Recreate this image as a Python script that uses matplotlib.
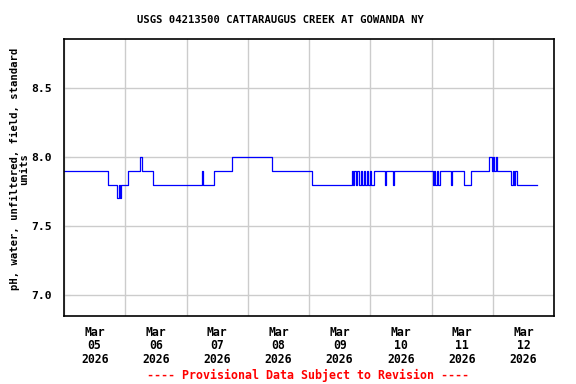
import numpy as np
import pandas as pd
import matplotlib
matplotlib.use("Agg")
import matplotlib.pyplot as plt
import matplotlib.dates as mdates

# pH change points (hours after Mar 05 00:00) and the value held from there on
hours = [0.0, 17.4, 20.6, 21.5, 21.9, 22.3, 23.2, 25.2, 29.9, 30.4, 34.7,
         54.2, 54.6, 58.9, 65.9, 81.4, 97.3,
         112.7, 113.3, 113.7, 114.3, 114.8, 115.5, 116.2, 116.8, 117.4, 118.0,
         118.6, 119.2, 119.8, 120.4, 121.3, 121.8,
         125.9, 126.3, 128.8, 129.4, 129.8, 131.0,
         144.5, 145.0, 145.5, 146.0, 146.5, 147.2,
         151.7, 152.1, 156.6, 159.6, 166.4, 167.7, 168.2, 168.6, 169.1, 169.5, 170.1,
         175.3, 175.8, 176.2, 176.9, 177.5, 185.5]
ph = [7.9, 7.8, 7.7, 7.8, 7.7, 7.8, 7.8, 7.9, 8.0, 7.9, 7.8,
      7.9, 7.8, 7.9, 8.0, 7.9, 7.8,
      7.9, 7.8, 7.9, 7.8, 7.9, 7.8, 7.9, 7.8, 7.9, 7.8,
      7.9, 7.8, 7.9, 7.8, 7.9, 7.9,
      7.8, 7.9, 7.8, 7.9, 7.9, 7.9,
      7.8, 7.9, 7.8, 7.9, 7.8, 7.9,
      7.8, 7.9, 7.8, 7.9, 8.0, 7.9, 8.0, 7.9, 8.0, 7.9, 7.9,
      7.8, 7.9, 7.8, 7.9, 7.8, 7.8]

start = pd.Timestamp("2026-03-05")
times = start + pd.to_timedelta(hours, unit="h")

mono = "DejaVu Sans Mono"

fig = plt.figure(figsize=(5.76, 3.84), dpi=100)
ax = fig.add_axes([64 / 576, 1 - 316 / 384, 490 / 576, 277 / 384])

ax.plot(times, ph, color="#0000ff", lw=0.9, drawstyle="steps-post")

ax.set_xlim(start, start + pd.Timedelta(days=8))
ax.set_ylim(6.848, 8.855)

# gridlines at midnight, labels at noon
ax.xaxis.set_major_locator(mdates.DayLocator())
ax.xaxis.set_major_formatter(plt.NullFormatter())
ax.xaxis.set_minor_locator(mdates.HourLocator(byhour=[12]))
ax.xaxis.set_minor_formatter(mdates.DateFormatter("%b\n%d\n%Y"))
ax.tick_params(axis="x", which="both", length=0)
ax.tick_params(axis="x", which="minor", pad=7)
for lbl in ax.get_xticklabels(minor=True):
    lbl.set_fontfamily(mono)
    lbl.set_fontweight("bold")
    lbl.set_fontsize(8.3)
    lbl.set_linespacing(1.05)

ax.set_yticks([7.0, 7.5, 8.0, 8.5])
ax.set_yticklabels(["7.0", "7.5", "8.0", "8.5"], fontfamily=mono,
                   fontweight="bold", fontsize=8.2)
ax.tick_params(axis="y", direction="in", length=4, color="#cccccc", pad=9)

ax.grid(True, which="major", color="#cccccc", lw=1)
ax.set_axisbelow(True)
for s in ax.spines.values():
    s.set_linewidth(1.2)

ax.set_ylabel("pH, water, unfiltered, field, standard\nunits", fontfamily=mono,
              fontweight="bold", fontsize=7.6, linespacing=0.95)
ax.yaxis.set_label_coords(-0.071, 0.531)

fig.text(280 / 576, 1 - 20 / 384, "USGS 04213500 CATTARAUGUS CREEK AT GOWANDA NY",
         ha="center", va="center", fontfamily=mono, fontweight="bold", fontsize=7.6)
fig.text(308 / 576, 1 - 375 / 384, "---- Provisional Data Subject to Revision ----",
         ha="center", va="center", color="red", fontfamily=mono,
         fontweight="bold", fontsize=8.4)

fig.savefig("out.png", dpi=100)
